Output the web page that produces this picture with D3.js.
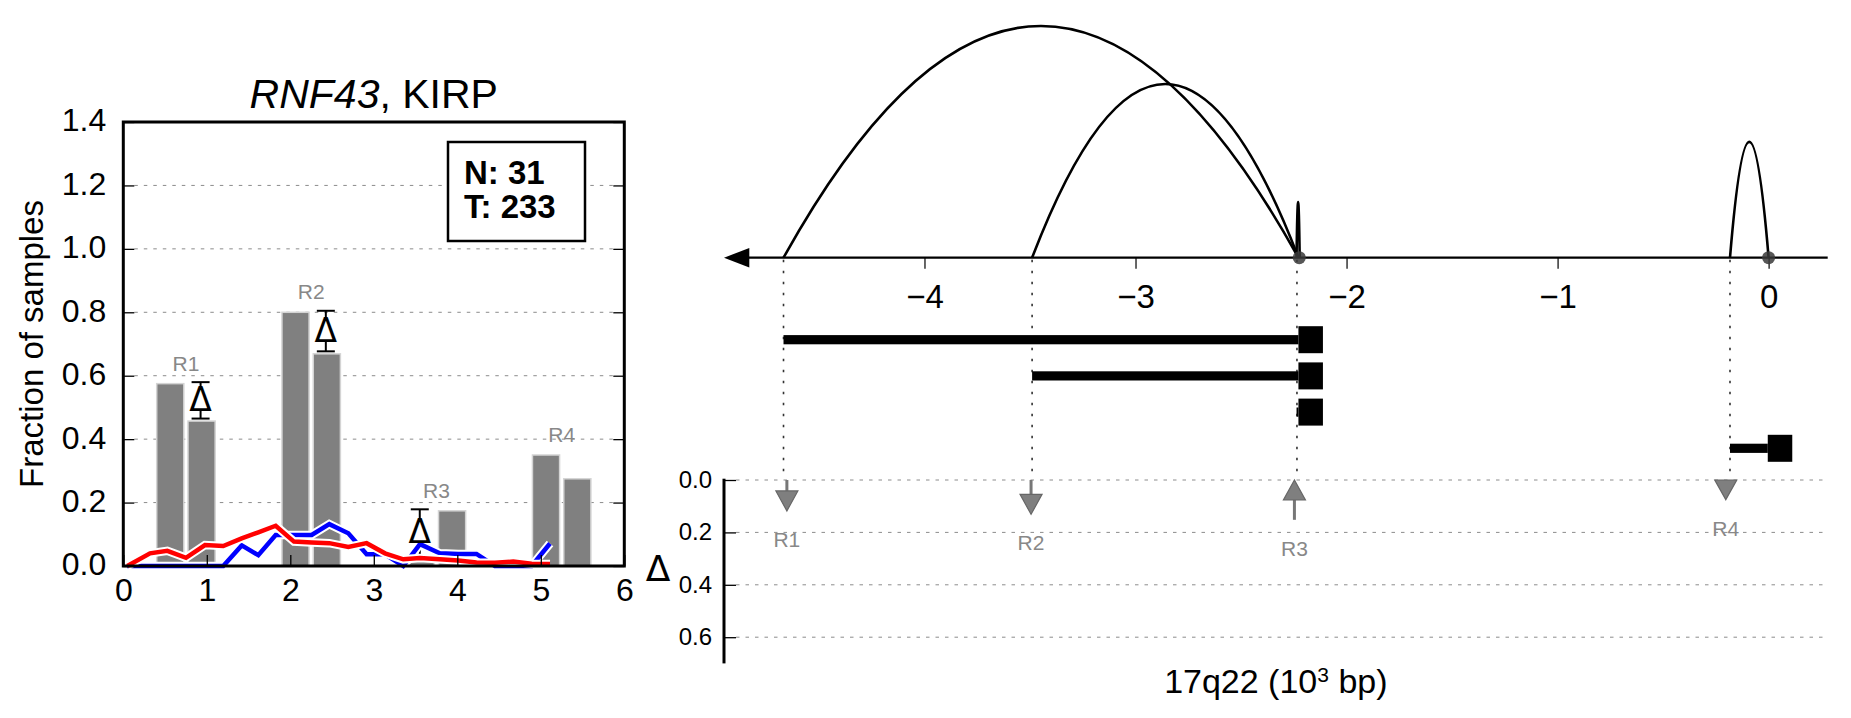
<!DOCTYPE html>
<html><head><meta charset="utf-8">
<script src="https://cdn.jsdelivr.net/npm/d3@7"></script>
<style>
body{margin:0;background:#fff}
svg{display:block}
text{font-family:"Liberation Sans",Arial,Helvetica,sans-serif}
</style>
</head><body>
<svg id="c" width="1851" height="718"></svg>
<script>
// ---------------- data ----------------
// left panel
const xTicksLeft = [0, 1, 2, 3, 4, 5, 6];
const yTicksLeft = [0.0, 0.2, 0.4, 0.6, 0.8, 1.0, 1.2, 1.4];
const yGridLeft = [0.2, 0.4, 0.6, 0.8, 1.0, 1.2];
const regionLabels = ["R1", "R2", "R3", "R4"];
const regionCenters = [0.75, 2.25, 3.75, 5.25];
const barA = [0.575, 0.80, 0.022, 0.35];
const barB = [0.457, 0.669, 0.174, 0.275];
const deltaShown = [true, true, true, false];
const lineX = [0.048, 0.32, 0.527, 0.751, 0.978, 1.197, 1.418, 1.617, 1.825, 2.044, 2.256, 2.467,
               2.695, 2.914, 3.134, 3.353, 3.553, 3.79, 4.01, 4.23, 4.45, 4.67, 4.89, 5.11];
const redLine = [0, 0.040, 0.048, 0.026, 0.066, 0.063, 0.087, 0.106, 0.127, 0.077, 0.074, 0.072,
                 0.060, 0.072, 0.040, 0.021, 0.025, 0.021, 0.017, 0.011, 0.010, 0.014, 0.007, 0.006];
const blueLine = [0, 0, 0, 0, 0, 0, 0.065, 0.034, 0.098, 0.098, 0.098, 0.132,
                  0.103, 0.037, 0.037, 0, 0.069, 0.040, 0.038, 0.038, 0, 0, 0, 0.071];
const legendLines = ["N: 31", "T: 233"];

// right panel
const kbTicks = [-4, -3, -2, -1, 0];
const breakpoints = [-4.668, -3.49, -2.235, -0.183];
const arcStart = [-4.668, -3.49, -0.183, -2.237];
const arcEnd = [-2.228, -2.228, 0.0, -2.222];
const arcHeight = [1.0, 0.75, 0.5, 0.24];
const junctions = [-2.224, 0.0];
const segStart = [-4.668, -3.49, -2.237, -0.183];
const segEnd = [-2.228, -2.228, -2.228, -0.004];
const arrowX = [-4.652, -3.495, -2.247, -0.203];
const deltaValues = [-0.118, -0.131, 0.152, -0.075];
const deltaTicks = [0.0, 0.2, 0.4, 0.6];

// ---------------- drawing ----------------
const svg = d3.select("#c");
const GRID = "#8c8c8c";
const MATHFONT = '"DejaVu Sans",sans-serif';

// ===== left panel =====
const x = d3.scaleLinear().domain([0, 6]).range([123.3, 624.3]);
const y = d3.scaleLinear().domain([0, 1.4]).range([566, 122]);
const gL = svg.append("g");

// grid
gL.selectAll("line.grid").data(yGridLeft).enter().append("line")
  .attr("x1", x(0) + 11).attr("x2", x(6) - 11)
  .attr("y1", d => y(d)).attr("y2", d => y(d))
  .attr("stroke", GRID).attr("stroke-width", 1).attr("stroke-dasharray", "3.5,6");

// bars
const bw = 0.325;
const bars = [];
regionCenters.forEach((c, i) => {
  bars.push({x0: c - 0.35, v: barA[i]});
  bars.push({x0: c + 0.025, v: barB[i]});
});
gL.selectAll("rect.bar").data(bars).enter().append("rect")
  .attr("x", d => x(d.x0)).attr("width", d => x(d.x0 + bw) - x(d.x0))
  .attr("y", d => y(d.v)).attr("height", d => y(0) - y(d.v))
  .attr("fill", "#808080").attr("stroke", "#d4d4d4").attr("stroke-width", 1.5);

// delta error bars (lines first, glyph later)
const deltaMarks = [];
regionCenters.forEach((c, i) => {
  if (!deltaShown[i]) return;
  const lo = Math.min(barA[i], barB[i]), hi = Math.max(barA[i], barB[i]);
  const xc = barA[i] < barB[i] ? c - 0.35 + bw / 2 : c + 0.025 + bw / 2;
  const px = x(xc) - 1, yHi = y(hi) - 1.5, yLo = y(lo) - 2.5;
  gL.append("line").attr("x1", px).attr("x2", px).attr("y1", yHi).attr("y2", yLo)
    .attr("stroke", "#000").attr("stroke-width", 2);
  [yHi, yLo].forEach(yy => gL.append("line").attr("x1", px - 9).attr("x2", px + 9)
    .attr("y1", yy).attr("y2", yy).attr("stroke", "#000").attr("stroke-width", 2));
  deltaMarks.push({px, mid: (yHi + yLo) / 2});
});

// lines with white halo
const lineGen = d3.line().x(d => x(d[0])).y(d => y(d[1])).curve(d3.curveLinear);
[[blueLine, "#0000ff"], [redLine, "#ff0000"]].forEach(([vals, col]) => {
  const pts = lineX.map((xx, i) => [xx, vals[i]]);
  gL.append("path").attr("d", lineGen(pts)).attr("fill", "none")
    .attr("stroke", "#fff").attr("stroke-width", 8.5).attr("stroke-linejoin", "miter");
  gL.append("path").attr("d", lineGen(pts)).attr("fill", "none")
    .attr("stroke", col).attr("stroke-width", 4.5).attr("stroke-linejoin", "miter");
});

// delta glyphs
deltaMarks.forEach(({px, mid}) => {
  gL.append("path")
    .attr("d", `M${px},${mid - 13} L${px - 11},${mid + 9} L${px + 11},${mid + 9} Z`).attr("fill", "#fff");
  gL.append("text").attr("x", px).attr("y", mid + 10.5).attr("text-anchor", "middle")
    .attr("font-size", 33).style("font-family", MATHFONT).text("Δ");
});

// region labels
regionCenters.forEach((c, i) => {
  gL.append("text").attr("x", x(c)).attr("y", y(Math.max(barA[i], barB[i])) - 13)
    .attr("text-anchor", "middle").attr("font-size", 21).attr("fill", "#888").text(regionLabels[i]);
});

// axes
const axL = d3.axisLeft(y).tickValues(yTicksLeft).tickSize(-11).tickPadding(17).tickFormat(d3.format(".1f"));
const axR = d3.axisRight(y).tickValues(yTicksLeft).tickSize(-11).tickFormat("");
const axB = d3.axisBottom(x).tickValues(xTicksLeft).tickSize(-11).tickPadding(12).tickFormat(d3.format("d"));
function styleAxis(g, fs) {
  g.select(".domain").remove();
  g.selectAll(".tick line").attr("stroke", "#000").attr("stroke-width", 1.3);
  g.selectAll(".tick text").attr("font-size", fs).attr("fill", "#000")
    .style("font-family", '"Liberation Sans",Arial,Helvetica,sans-serif');
}
const gAL = gL.append("g").attr("transform", `translate(${x(0)},0)`).call(axL); styleAxis(gAL, 32);
gAL.selectAll(".tick text").attr("dy", "0.28em");
const gAR = gL.append("g").attr("transform", `translate(${x(6)},0)`).call(axR); styleAxis(gAR, 32);
const gAB = gL.append("g").attr("transform", `translate(0,${y(0)})`).call(axB); styleAxis(gAB, 32);

gL.append("rect").attr("x", x(0)).attr("y", y(1.4)).attr("width", x(6) - x(0)).attr("height", y(0) - y(1.4))
  .attr("fill", "none").attr("stroke", "#000").attr("stroke-width", 3);

// title
const title = gL.append("text").attr("x", (x(0) + x(6)) / 2).attr("y", 108)
  .attr("text-anchor", "middle").attr("font-size", 41);
title.append("tspan").attr("font-style", "italic").text("RNF43");
title.append("tspan").text(", KIRP");

// y label
gL.append("text").attr("transform", `translate(43,${(y(0) + y(1.4)) / 2}) rotate(-90)`)
  .attr("text-anchor", "middle").attr("font-size", 33).text("Fraction of samples");

// legend box
gL.append("rect").attr("x", 448).attr("y", 142).attr("width", 137).attr("height", 99)
  .attr("fill", "#fff").attr("stroke", "#000").attr("stroke-width", 2.5);
legendLines.forEach((t, i) => gL.append("text").attr("x", 464).attr("y", 184 + i * 34)
  .attr("font-size", 33).attr("font-weight", "bold").text(t));

// ===== right panel =====
const kb = d3.scaleLinear().domain([-4.95, 0.28]).range([724, 1827.7]);
const arcY = d3.scaleLinear().domain([0, 1]).range([257.7, 26]);
const rowY = d3.scaleLinear().domain([0, 3]).range([339.7, 448.3]);
const dY = d3.scaleLinear().domain([0, 0.7]).range([480, 663.4]);
const gR = svg.append("g");
const y0 = arcY(0);

// delta grid
gR.selectAll("line.dgrid").data(deltaTicks).enter().append("line")
  .attr("x1", kb(-4.95) + 12).attr("x2", kb(0.28))
  .attr("y1", d => dY(d)).attr("y2", d => dY(d))
  .attr("stroke", GRID).attr("stroke-width", 1).attr("stroke-dasharray", "3.5,6");

// dotted verticals
gR.selectAll("line.bp").data(breakpoints).enter().append("line")
  .attr("x1", d => kb(d)).attr("x2", d => kb(d)).attr("y1", y0 + 2).attr("y2", dY(0) - 8)
  .attr("stroke", "#333").attr("stroke-width", 1.6).attr("stroke-dasharray", "2.5,8.5");

// arcs
arcStart.forEach((s, i) => {
  const xa = kb(s), xb = kb(arcEnd[i]), h = y0 - arcY(arcHeight[i]);
  gR.append("path").attr("d", `M${xa},${y0} Q${(xa + xb) / 2},${y0 - 2 * h} ${xb},${y0}`)
    .attr("fill", "none").attr("stroke", "#000").attr("stroke-width", 2.6);
});

// main axis with arrowhead
gR.append("line").attr("x1", kb(-4.95) + 20).attr("x2", kb(0.28)).attr("y1", y0).attr("y2", y0)
  .attr("stroke", "#000").attr("stroke-width", 2.2);
gR.append("path").attr("d", `M${kb(-4.95)},${y0} L${kb(-4.95) + 25.3},${y0 - 9.7} L${kb(-4.95) + 25.3},${y0 + 9.7} Z`)
  .attr("fill", "#000");
const axKb = d3.axisBottom(kb).tickValues(kbTicks).tickSize(11).tickPadding(16).tickFormat(d3.format("d"));
const gKb = gR.append("g").attr("transform", `translate(0,${y0})`).call(axKb);
styleAxis(gKb, 33);
gKb.selectAll(".tick line").attr("stroke-width", 1.2);

// junction dots
gR.selectAll("circle.j").data(junctions).enter().append("circle")
  .attr("cx", d => kb(d)).attr("cy", y0).attr("r", 6.5)
  .attr("fill", "#3a3a3a").attr("fill-opacity", 0.85);

// segments with end squares
segStart.forEach((s, i) => {
  const yy = rowY(i);
  gR.append("rect").attr("x", kb(s)).attr("y", yy - 4.6).attr("width", kb(segEnd[i]) - kb(s)).attr("height", 9.2)
    .attr("fill", "#000");
  gR.append("rect").attr("x", kb(segEnd[i])).attr("y", yy - 13.5).attr("width", 24.5).attr("height", 27)
    .attr("fill", "#000");
});

// delta axis
const axD = d3.axisLeft(dY).tickValues(deltaTicks).tickSize(-12).tickPadding(12).tickFormat(d3.format(".1f"));
const gD = gR.append("g").attr("transform", `translate(${kb(-4.95)},0)`).call(axD);
styleAxis(gD, 24);
gD.selectAll(".tick text").attr("dy", "0.3em");
gR.append("line").attr("x1", kb(-4.95)).attr("x2", kb(-4.95)).attr("y1", dY(0) - 1.3).attr("y2", dY(0.7))
  .attr("stroke", "#000").attr("stroke-width", 3);
gR.append("text").attr("x", 658).attr("y", 581).attr("text-anchor", "middle").attr("font-size", 36)
  .style("font-family", MATHFONT).text("Δ");

// delta arrows
arrowX.forEach((ax, i) => {
  const px = kb(ax), dv = deltaValues[i], mag = Math.abs(dv);
  const yTip = dv < 0 ? dY(mag) : dY(0), yTail = dv < 0 ? dY(0) : dY(mag);
  const dir = dv < 0 ? 1 : -1;
  const headLen = Math.min(20, Math.abs(yTip - yTail));
  const yBase = yTip - dir * headLen;
  gR.append("line").attr("x1", px).attr("x2", px).attr("y1", yTail).attr("y2", yBase)
    .attr("stroke", "#777").attr("stroke-width", 3);
  gR.append("path").attr("d", `M${px},${yTip} L${px - 11},${yBase} L${px + 11},${yBase} Z`)
    .attr("fill", "#7f7f7f").attr("stroke", "#666").attr("stroke-width", 1.2);
  gR.append("text").attr("x", px).attr("y", dY(mag) + 36).attr("text-anchor", "middle")
    .attr("font-size", 21).attr("fill", "#888").text(regionLabels[i]);
});

// x label
const xl = gR.append("text").attr("x", (kb(-4.95) + kb(0.28)) / 2).attr("y", 693)
  .attr("text-anchor", "middle").attr("font-size", 34);
xl.append("tspan").text("17q22 (10");
xl.append("tspan").attr("font-size", 21).attr("dy", -11).text("3");
xl.append("tspan").attr("dy", 11).text(" bp)");
</script>
</body></html>
